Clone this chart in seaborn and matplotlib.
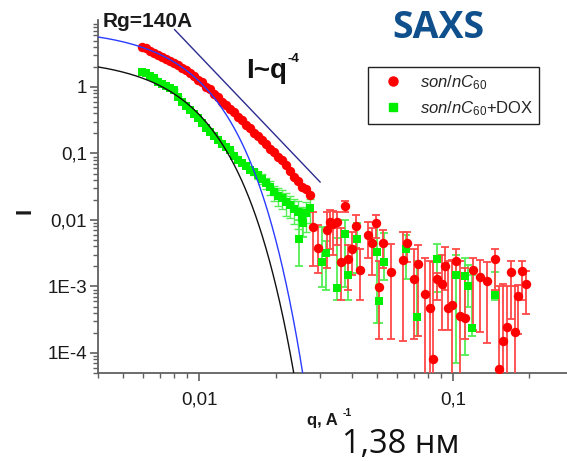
import numpy as np
import pandas as pd
import matplotlib
matplotlib.use("Agg")
import matplotlib.pyplot as plt
from matplotlib.lines import Line2D
from matplotlib.ticker import FixedLocator, FixedFormatter, LogLocator, NullFormatter
import seaborn as sns

# ---------------- data ----------------
# dense low-q part, both samples measured on the same q grid (A^-1)
q_dense = [0.00597, 0.00619, 0.00642, 0.00665, 0.00690, 0.00715, 0.00742, 0.00769,
           0.00797, 0.00827, 0.00857, 0.00889, 0.00922, 0.00956, 0.00991, 0.01028,
           0.01066, 0.01105, 0.01146, 0.01188, 0.01232, 0.01277, 0.01325, 0.01374,
           0.01424, 0.01477, 0.01531, 0.01588, 0.01647, 0.01707, 0.01770, 0.01836,
           0.01903, 0.01974, 0.02047, 0.02122, 0.02200, 0.02282, 0.02366, 0.02453,
           0.02544, 0.02638, 0.02735]

son_dense_I = [4.0, 3.8, 3.45, 3.3, 3.0, 2.85, 2.6, 2.5, 2.28, 2.17, 1.95, 1.82, 1.6,
               1.48, 1.28, 1.17, 1.0, 0.92, 0.78, 0.70, 0.59, 0.54, 0.46, 0.42, 0.355,
               0.315, 0.265, 0.238, 0.20, 0.183, 0.157, 0.14, 0.118, 0.107, 0.090,
               0.080, 0.066, 0.055, 0.044, 0.038, 0.031, 0.029, 0.0235]

dox_dense_I = [1.68, 1.6, 1.47, 1.35, 1.2, 1.1, 1.04, 0.95, 0.91, 0.70, 0.60, 0.51,
               0.455, 0.39, 0.345, 0.285, 0.245, 0.21, 0.185, 0.158, 0.140, 0.124,
               0.112, 0.092, 0.081, 0.071, 0.065, 0.056, 0.053, 0.047, 0.042, 0.036,
               0.031, 0.026, 0.023, 0.0215, 0.0185, 0.0168, 0.0146, 0.0132, 0.0107,
               0.0127, 0.0150]
dox_dense_err = [0.05, 0.05, 0.045, 0.04, 0.036, 0.033, 0.031, 0.029, 0.027, 0.021,
                 0.018, 0.015, 0.014, 0.012, 0.010, 0.0086, 0.0074, 0.0063, 0.0056,
                 0.0047, 0.0042, 0.0037, 0.0034, 0.0028, 0.0024, 0.0021, 0.0020,
                 0.004, 0.005, 0.006, 0.007, 0.007, 0.007, 0.007, 0.007, 0.007, 0.007,
                 0.006, 0.006, 0.006, 0.005, 0.006, 0.006]

# high-q part of son/nC60: intensity with lower / upper error-bar ends
son_q = [0.0281, 0.0295, 0.0319, 0.0328, 0.0338, 0.0350, 0.0363, 0.0376, 0.0386,
         0.0400, 0.0415, 0.0430, 0.0462, 0.0480, 0.0497, 0.0511, 0.0530, 0.0570,
         0.0636, 0.0660, 0.0703, 0.0728, 0.0775, 0.0811, 0.0835, 0.0866, 0.0903,
         0.0930, 0.0955, 0.0990, 0.1028, 0.1066, 0.1115, 0.1200, 0.1277, 0.1363,
         0.1463, 0.1518, 0.1574, 0.1632, 0.1692, 0.1754, 0.1802, 0.1870, 0.1940]
son_I = [0.0078, 0.0038, 0.0071, 0.0093, 0.0088, 0.0093, 0.0023, 0.0163, 0.0026,
         0.0036, 0.0082, 0.00177, 0.0060, 0.0045, 0.0090, 0.00097, 0.0045, 0.00165,
         0.0025, 0.0045, 0.0013, 0.0022, 0.00077, 0.00047, 0.000082, 0.0013, 0.0011,
         0.0020, 0.00047, 0.00053, 0.0024, 0.00036, 0.00034, 0.0018, 0.0014, 0.0012,
         0.0026, 0.000057, 0.00015, 0.00025, 0.00165, 0.00021, 0.00071, 0.0017, 0.0011]
son_top = [0.0133, 0.0084, 0.0133, 0.0142, 0.0137, 0.0133, 0.0076, 0.0195, 0.0042,
           0.0066, 0.0119, 0.0036, 0.0093, 0.0076, 0.0119, 0.0024, 0.0071, 0.0044,
           0.0066, 0.0066, 0.0036, 0.0042, 0.0027, 0.0024, 0.0023, 0.0016, 0.0030,
           0.0039, 0.0024, 0.0025, 0.0037, 0.0024, 0.0019, 0.0027, 0.0025, 0.0023,
           0.0036, 0.0010, 0.0011, 0.0010, 0.0024, 0.0010, 0.00105, 0.0024, 0.0017]
son_bot = [0.0020, 0.0016, 0.0019, 0.0036, 0.0030, 0.0042, 0.00063, 0.0133, 0.00089,
           0.0015, 0.0038, 0.00063, 0.0027, 0.0015, 0.0054, 0.00016, 0.0019, 0.00016,
           0.00015, 0.0023, 0.00016, 0.00018, 1e-5, 1e-5, 1e-5, 0.00063, 0.00022,
           0.00089, 0.00022, 1e-5, 0.0015, 1e-5, 0.00016, 0.00022, 0.00021, 0.00014,
           0.00089, 1e-5, 1e-5, 1e-5, 0.00032, 1e-5, 0.00019, 0.00063, 0.00039]

# high-q part of son/nC60+DOX
dox_q = [0.0248, 0.0257, 0.0306, 0.0316, 0.0350, 0.0376, 0.0386, 0.0418, 0.0502,
         0.0511, 0.0536, 0.0653, 0.0722, 0.0866, 0.1028, 0.1115, 0.1145, 0.1190, 0.1463]
dox_I = [0.0052, 0.0090, 0.0023, 0.0032, 0.00095, 0.0062, 0.00149, 0.0052, 0.0033,
         0.00060, 0.0023, 0.0037, 0.00035, 0.0026, 0.00149, 0.00143, 0.00100, 0.00024,
         0.00075]
dox_top = [0.0100, 0.0152, 0.0078, 0.0048, 0.0053, 0.0100, 0.0025, 0.0090, 0.0090,
           0.00105, 0.0064, 0.0060, 0.0024, 0.0044, 0.0030, 0.0027, 0.0021, 0.00149,
           0.00165]
dox_bot = [0.0020, 0.0056, 0.00097, 0.00089, 0.00063, 0.00099, 0.00063, 0.0016,
           0.00028, 0.00028, 0.00126, 0.0013, 0.00018, 0.00083, 0.000071, 0.000092,
           0.00050, 0.00018, 0.00063]

# Guinier fits, I = I0 * exp(-(q*Rg)^2)
guinier_son = dict(I0=7.56, Rg=135.0)
guinier_dox = dict(I0=2.74, Rg=140.0)
# Porod-like slope I ~ A q^-4
porod_A = 3.0e-8
porod_q = [0.0080, 0.0300]

# ---------------- style ----------------
sns.set_style("ticks")
plt.rcParams["font.family"] = ["Liberation Sans", "DejaVu Sans"]
plt.rcParams["mathtext.fontset"] = "custom"
plt.rcParams["mathtext.rm"] = "Liberation Sans"
plt.rcParams["mathtext.it"] = "Liberation Sans:italic"
plt.rcParams["mathtext.bf"] = "Liberation Sans:bold"

RED = "#ff0000"
RED_BAR = "#ff4848"
GREEN = "#00ee00"
GREEN_BAR = "#55ee55"

W, H = 567, 461
fig = plt.figure(figsize=(W / 100, H / 100), dpi=100)
ax = fig.add_axes([98 / W, 88 / H, 469 / W, 352.5 / H])
ax.set_xscale("log")
ax.set_yscale("log")

# ---------------- frames ----------------
son_d = pd.DataFrame({"q": q_dense, "I": son_dense_I})
dox_d = pd.DataFrame({"q": q_dense, "I": dox_dense_I, "err": dox_dense_err})
son_s = pd.DataFrame({"q": son_q, "I": son_I, "top": son_top, "bot": son_bot})
dox_s = pd.DataFrame({"q": dox_q, "I": dox_I, "top": dox_top, "bot": dox_bot})
son_all = pd.concat([son_d, son_s[["q", "I"]]], ignore_index=True)
dox_all = pd.concat([dox_d[["q", "I"]], dox_s[["q", "I"]]], ignore_index=True)

# error bars
ax.errorbar(dox_d["q"], dox_d["I"], yerr=dox_d["err"], fmt="none",
            ecolor=GREEN_BAR, elinewidth=1.0, capsize=3, capthick=1.0, zorder=2)
ax.errorbar(dox_s["q"], dox_s["I"],
            yerr=[dox_s["I"] - dox_s["bot"], dox_s["top"] - dox_s["I"]],
            fmt="none", ecolor=GREEN_BAR, elinewidth=1.3, capsize=3, capthick=1.3, zorder=2)
ax.errorbar(son_s["q"], son_s["I"],
            yerr=[son_s["I"] - son_s["bot"], son_s["top"] - son_s["I"]],
            fmt="none", ecolor=RED_BAR, elinewidth=1.3, capsize=3, capthick=1.3, zorder=3)

# markers
sns.scatterplot(data=dox_all, x="q", y="I", marker="s", s=30, color=GREEN,
                linewidth=0, ax=ax, zorder=4)
sns.scatterplot(data=son_all, x="q", y="I", marker="o", s=46, color=RED,
                linewidth=0, ax=ax, zorder=5)

# model curves
q_model = np.geomspace(0.004, 0.032, 400)
fit = pd.DataFrame({
    "q": q_model,
    "son": guinier_son["I0"] * np.exp(-(q_model * guinier_son["Rg"]) ** 2),
    "dox": guinier_dox["I0"] * np.exp(-(q_model * guinier_dox["Rg"]) ** 2),
})
sns.lineplot(data=fit, x="q", y="son", color="#2a3cff", lw=1.0, ax=ax, zorder=6)
sns.lineplot(data=fit, x="q", y="dox", color="#111111", lw=1.0, ax=ax, zorder=6)
porod = pd.DataFrame({"q": porod_q, "I": [porod_A * q ** -4 for q in porod_q]})
sns.lineplot(data=porod, x="q", y="I", color="#2b2b90", lw=1.0, ax=ax, zorder=6)

# ---------------- axes ----------------
ax.set_xlim(0.004, 0.281)
ax.set_ylim(5e-5, 10)
ax.set_xlabel("")
ax.set_ylabel("")

ax.xaxis.set_major_locator(FixedLocator([0.01, 0.1]))
ax.xaxis.set_major_formatter(FixedFormatter(["0,01", "0,1"]))
ax.xaxis.set_minor_locator(LogLocator(base=10, subs=np.arange(2, 10)))
ax.xaxis.set_minor_formatter(NullFormatter())
ax.yaxis.set_major_locator(FixedLocator([1e-4, 1e-3, 1e-2, 1e-1, 1]))
ax.yaxis.set_major_formatter(FixedFormatter(["1E-4", "1E-3", "0,01", "0,1", "1"]))
ax.yaxis.set_minor_locator(LogLocator(base=10, subs=np.arange(2, 10), numticks=20))
ax.yaxis.set_minor_formatter(NullFormatter())

for side in ("top", "right"):
    ax.spines[side].set_visible(False)
for side in ("left", "bottom"):
    ax.spines[side].set_color("#606060")
    ax.spines[side].set_linewidth(1.3)
ax.tick_params(which="major", direction="out", length=6, width=1.2, color="#606060",
               labelsize=13.5, labelcolor="#1a1a1a")
ax.tick_params(which="minor", direction="out", length=3.5, width=1.0, color="#606060")
ax.tick_params(axis="y", which="major", pad=2)
ax.tick_params(axis="x", which="major", pad=7)

# ---------------- text ----------------
def fx(px):
    return px / W

def fy(py):
    return 1 - py / H

fig.text(fx(25), fy(211), "I", rotation=90, ha="center", va="center",
         fontsize=16, fontweight="bold", color="#1a1a1a")
fig.text(fx(307), fy(425), "q, A", ha="left", va="baseline",
         fontsize=12, fontweight="bold", color="#1a1a1a")
fig.text(fx(343), fy(416), "-1", ha="left", va="baseline",
         fontsize=7.5, fontweight="bold", color="#1a1a1a")
fig.text(fx(103), fy(27), "Rg=140A", ha="left", va="baseline",
         fontsize=15, fontweight="bold", color="#1a1a1a")
fig.text(fx(246), fy(78), "I~q", ha="left", va="baseline",
         fontsize=20, fontweight="bold", color="#111111")
fig.text(fx(288), fy(62), "-4", ha="left", va="baseline",
         fontsize=9.5, fontweight="bold", color="#111111")
fig.text(fx(438), fy(38), "SAXS", ha="center", va="baseline",
         fontsize=27, fontweight="bold", color="#0f508c", family="Open Sans")
fig.text(fx(342), fy(453), "1,38 нм", ha="left", va="baseline",
         fontsize=23.5, color="#111111", family="Open Sans")

# ---------------- legend ----------------
handles = [
    Line2D([], [], ls="none", marker="o", ms=6.5, color=RED, mec=RED),
    Line2D([], [], ls="none", marker="s", ms=5.5, color=GREEN, mec=GREEN),
]
labels = [r"$\mathit{son/nC}_{\mathit{60}}$", r"$\mathit{son/nC}_{\mathit{60}}$+DOX"]
leg = ax.legend(handles, labels, loc="upper left",
                bbox_to_anchor=(fx(368), fy(67)), bbox_transform=fig.transFigure,
                frameon=True, fancybox=False, framealpha=1, edgecolor="#222222",
                fontsize=12, borderpad=0.35, labelspacing=0.45, handlelength=2.3,
                handletextpad=0.45, borderaxespad=0)
leg.get_frame().set_linewidth(1.0)

fig.savefig("out.png", dpi=100)
